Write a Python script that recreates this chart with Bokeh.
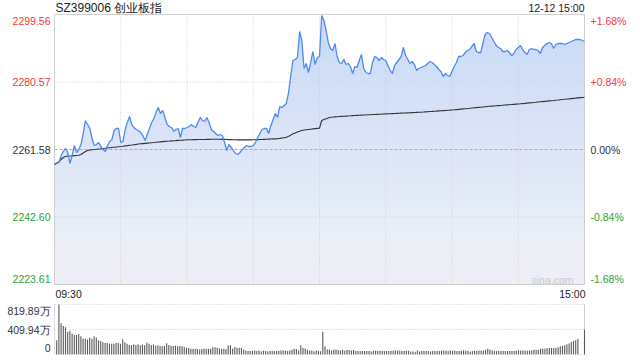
import numpy as np
from bokeh.plotting import figure
from bokeh.models import Range1d
from bokeh.embed import file_html
from bokeh.resources import INLINE
from bokeh.core.properties import value

# ---------------- data ----------------
title_text = "SZ399006 创业板指"
date_text = "12-12 15:00"
time_labels = ["09:30", "15:00"]
watermark = "sina.com"
prev_close = 2261.58
price_ticks = [2299.56, 2280.57, 2261.58, 2242.60, 2223.61]
price_tick_labels = ["2299.56", "2280.57", "2261.58", "2242.60", "2223.61"]
pct_tick_labels = ["+1.68%", "+0.84%", "0.00%", "-0.84%", "-1.68%"]
vol_ticks = [819.89, 409.94, 0]
vol_tick_labels = ["819.89万", "409.94万", "0"]
time_grid = [30, 60, 90, 120, 150, 180, 210]

price = [
    2257.36, 2257.65, 2257.93, 2259.90, 2261.02, 2261.87, 2260.74, 2257.65, 2259.90, 2262.71,
    2260.74, 2261.58, 2262.99, 2266.09, 2269.74, 2268.62, 2267.49, 2264.68, 2262.71, 2262.99,
    2263.55, 2262.43, 2261.58, 2261.02, 2262.71, 2263.83, 2264.40, 2266.93, 2267.49, 2267.49,
    2263.55, 2263.83, 2267.21, 2269.18, 2270.87, 2268.62, 2267.77, 2267.21, 2266.93, 2266.37,
    2265.52, 2264.12, 2265.80, 2267.49, 2269.18, 2270.30, 2271.99, 2273.40, 2271.71, 2272.56,
    2270.59, 2268.62, 2268.05, 2267.77, 2266.65, 2267.21, 2267.49, 2264.96, 2267.49, 2267.49,
    2267.77, 2268.05, 2268.62, 2268.05, 2267.77, 2269.18, 2270.59, 2269.74, 2269.46, 2270.59,
    2269.18, 2267.21, 2266.65, 2266.09, 2265.52, 2265.80, 2265.52, 2263.55, 2261.30, 2262.99,
    2262.15, 2261.30, 2260.46, 2260.18, 2260.74, 2261.58, 2262.15, 2262.71, 2262.43, 2262.43,
    2262.71, 2263.55, 2264.96, 2266.09, 2267.21, 2267.49, 2267.49, 2266.09, 2268.34, 2270.02,
    2271.71, 2270.59, 2273.68, 2273.40, 2273.96, 2274.52, 2277.62, 2282.40, 2286.62, 2286.90,
    2287.46, 2294.78, 2292.25, 2284.37, 2285.78, 2283.24, 2286.06, 2289.15, 2285.49, 2287.46,
    2287.75,
    2299.28, 2297.87, 2295.06, 2291.68, 2290.00, 2289.43, 2291.40, 2287.75, 2286.06,
    2285.78, 2286.90, 2285.49, 2285.78, 2284.93, 2282.96, 2284.93, 2284.65, 2286.62, 2288.31,
    2284.37, 2283.24, 2282.96, 2282.96, 2286.06, 2287.75, 2287.46, 2286.62, 2287.46, 2286.90,
    2286.62, 2285.21, 2283.81, 2282.96, 2285.21, 2286.06, 2286.90, 2287.75, 2290.28, 2288.03,
    2286.90, 2285.78, 2286.34, 2285.49, 2283.81, 2284.37, 2284.65, 2284.93, 2285.21, 2285.78,
    2286.34, 2286.06, 2285.49, 2284.93, 2284.09, 2283.53, 2282.12, 2282.96, 2282.40, 2282.12,
    2283.53, 2284.93, 2286.06, 2287.75, 2287.75, 2288.03, 2288.87, 2289.43, 2289.71, 2290.56,
    2291.40, 2289.15, 2288.87, 2288.87, 2291.40, 2293.93, 2294.50, 2294.22, 2293.09, 2291.96,
    2290.84, 2290.28, 2290.00, 2289.15, 2289.15, 2289.43, 2288.87, 2288.03, 2288.59, 2289.71,
    2290.28, 2290.84, 2289.71, 2288.87, 2288.31, 2289.71, 2290.00, 2289.71, 2289.71, 2289.43,
    2288.59, 2290.28, 2290.84, 2291.40, 2291.68, 2291.40, 2290.00, 2291.12, 2291.40, 2291.40,
    2291.40, 2291.12, 2291.40, 2291.68, 2291.96, 2292.25, 2292.53, 2292.53, 2292.53, 2292.25,
    2291.96,
]

avg = [
    2257.36, 2257.79, 2258.07, 2258.77, 2259.33, 2259.62, 2259.76, 2259.76, 2259.80, 2259.85,
    2259.90, 2259.95, 2260.18, 2260.60, 2261.02, 2261.30, 2261.44, 2261.53, 2261.58, 2261.64,
    2261.72, 2261.78, 2261.87, 2261.94, 2262.01, 2262.08, 2262.15, 2262.22, 2262.29, 2262.36,
    2262.43, 2262.51, 2262.60, 2262.68, 2262.77, 2262.85, 2262.94, 2263.02, 2263.11, 2263.19,
    2263.25, 2263.31, 2263.37, 2263.43, 2263.49, 2263.55, 2263.62, 2263.68, 2263.74, 2263.80,
    2263.86, 2263.92, 2263.96, 2264.01, 2264.05, 2264.09, 2264.14, 2264.18, 2264.22, 2264.27,
    2264.31, 2264.32, 2264.34, 2264.35, 2264.36, 2264.38, 2264.39, 2264.40, 2264.41, 2264.43,
    2264.44, 2264.45, 2264.46, 2264.47, 2264.48, 2264.46, 2264.44, 2264.42, 2264.39, 2264.37,
    2264.35, 2264.33, 2264.31, 2264.30, 2264.29, 2264.28, 2264.28, 2264.28, 2264.28, 2264.29,
    2264.31, 2264.33, 2264.35, 2264.38, 2264.41, 2264.44, 2264.47, 2264.50, 2264.53, 2264.56,
    2264.58, 2264.62, 2264.72, 2264.83, 2264.93, 2265.04, 2265.32, 2265.62, 2266.00, 2266.25,
    2266.50, 2266.72, 2266.93, 2267.06, 2267.14, 2267.22, 2267.30, 2267.38, 2267.46, 2267.52,
    2267.58,
    2269.74, 2270.02, 2270.22, 2270.45, 2270.67, 2270.71, 2270.76, 2270.80, 2270.85,
    2270.89, 2270.93, 2270.98, 2271.02, 2271.06, 2271.11, 2271.15, 2271.18, 2271.21, 2271.25,
    2271.28, 2271.31, 2271.34, 2271.37, 2271.41, 2271.44, 2271.47, 2271.50, 2271.53, 2271.57,
    2271.60, 2271.63, 2271.66, 2271.69, 2271.72, 2271.75, 2271.78, 2271.81, 2271.84, 2271.87,
    2271.90, 2271.93, 2271.96, 2271.99, 2272.02, 2272.05, 2272.08, 2272.12, 2272.17, 2272.21,
    2272.26, 2272.30, 2272.35, 2272.39, 2272.44, 2272.48, 2272.53, 2272.57, 2272.62, 2272.66,
    2272.71, 2272.75, 2272.81, 2272.87, 2272.94, 2273.00, 2273.06, 2273.12, 2273.18, 2273.25,
    2273.31, 2273.37, 2273.43, 2273.49, 2273.56, 2273.62, 2273.68, 2273.73, 2273.78, 2273.83,
    2273.88, 2273.93, 2273.98, 2274.04, 2274.09, 2274.14, 2274.19, 2274.24, 2274.29, 2274.34,
    2274.39, 2274.44, 2274.50, 2274.56, 2274.63, 2274.69, 2274.75, 2274.81, 2274.87, 2274.94,
    2275.00, 2275.06, 2275.12, 2275.18, 2275.25, 2275.31, 2275.37, 2275.44, 2275.50, 2275.57,
    2275.64, 2275.70, 2275.77, 2275.83, 2275.90, 2275.97, 2276.03, 2276.10, 2276.17, 2276.23,
    2276.30,
]

volume = [
    234, 819.89, 513, 469, 446, 374, 390, 346, 318, 318,
    335, 301, 257, 257, 245, 279, 257, 301, 279, 234,
    223, 201, 190, 190, 178, 178, 178, 190, 190, 178,
    251, 201, 178, 156, 150, 167, 156, 167, 150, 162,
    150, 195, 178, 156, 162, 145, 150, 140, 134, 140,
    184, 156, 145, 140, 145, 134, 134, 134, 123, 112,
    106, 95, 95, 95, 89, 84, 89, 95, 95, 95,
    95, 117, 117, 112, 100, 95, 95, 89, 150, 150,
    100, 123, 112, 112, 106, 84, 67, 56, 56, 62,
    67, 56, 67, 50, 62, 56, 50, 56, 62, 56,
    56, 62, 67, 67, 62, 56, 67, 78, 95, 89,
    67, 150, 106, 100, 78, 67, 67, 50, 67, 56,
    55,
    374, 134, 84, 84, 67, 84, 84, 75, 67,
    78, 60, 75, 75, 67, 75, 56, 56, 56, 56,
    56, 56, 56, 50, 56, 56, 56, 62, 56, 56,
    56, 56, 62, 67, 67, 67, 67, 56, 56, 62,
    62, 50, 50, 45, 67, 50, 56, 62, 56, 56,
    50, 56, 56, 56, 56, 62, 67, 62, 56, 67,
    56, 67, 56, 56, 62, 67, 62, 56, 45, 56,
    62, 56, 67, 67, 67, 78, 95, 84, 67, 56,
    56, 56, 56, 56, 56, 56, 56, 56, 56, 62,
    67, 67, 67, 67, 62, 67, 67, 78, 78, 78,
    95, 95, 95, 106, 106, 106, 106, 106, 117, 134,
    140, 151, 167, 179, 206, 223, 234, 257, 3, 3,
    402,
]

minutes = list(range(len(price)))
n_last = minutes[-1]

# ---------------- layout (pixels) ----------------
W, H = 640, 360
PL, PR, PT, PB = 54, 584, 14, 284      # price panel frame
VT, VB = 304, 354                      # volume panel frame
ylo, yhi = price_ticks[-1], price_ticks[0]
vmax = vol_ticks[0]

kx = n_last / (PR - PL)                # minutes per px
ky = (yhi - ylo) / (PB - PT)           # price per px
kvx = (n_last + 1) / (PR - PL)         # volume slots per px
kvy = vmax / (VB - VT)                 # volume per px


def X(px):
    return (px - PL) * kx


def Y(py):
    return yhi - (py - PT) * ky


def VX(px):
    return -1 + (px - PL) * kvx


def VY(py):
    return (VB - py) * kvy


FONT = value("Liberation Sans")
RED, GREEN, DARK = "#f03a3a", "#27a33a", "#333333"
GRID = "#cccccc"
FS = value("10.5px")


def tick_color(v):
    if v > prev_close + 1e-6:
        return RED
    if v < prev_close - 1e-6:
        return GREEN
    return DARK


p = figure(width=W, height=H, x_range=Range1d(X(0), X(W)), y_range=Range1d(Y(H), Y(0)),
           x_axis_type=None, y_axis_type=None, output_backend="svg", toolbar_location=None,
           min_border=0, min_border_left=0, min_border_right=0, min_border_top=0, min_border_bottom=0,
           background_fill_color="white", border_fill_color="white", outline_line_color=None)
p.extra_x_ranges = {"vx": Range1d(VX(0), VX(W))}
p.extra_y_ranges = {"vy": Range1d(VY(H), VY(0))}

# ---- price area fill with a vertical fade ----
p.varea(x=minutes, y1=ylo, y2=price, fill_color="#cad9f7", fill_alpha=1.0)
f_bot = 0.10
N = 40
alpha = 1 - f_bot ** (1.0 / N)
for k in range(1, N + 1):
    frac = ((1 - alpha) ** k - f_bot) / (1 - f_bot)
    top_k = ylo + (yhi - ylo) * max(frac, 0.003)
    p.quad(left=0, right=n_last, bottom=ylo, top=top_k,
           fill_color="white", fill_alpha=alpha, line_color=None)

# ---- grid ----
p.segment(x0=time_grid, x1=time_grid, y0=ylo, y1=yhi, line_color=GRID, line_dash="1 2", line_width=1)
hgrid = [t for t in price_ticks[1:-1] if abs(t - prev_close) > 1e-6]
p.segment(x0=0, x1=n_last, y0=hgrid, y1=hgrid, line_color=GRID, line_dash="1 2", line_width=1)
p.segment(x0=[0], x1=[n_last], y0=[prev_close], y1=[prev_close], line_color="#aaaaaa",
          line_dash="3 2", line_width=1)
# frame
p.quad(left=0, right=n_last, bottom=ylo, top=yhi, fill_color=None, line_color="#d0d0d0", line_width=1)

# ---- lines ----
p.line(x=minutes, y=avg, line_color="#333333", line_width=1.1)
p.line(x=minutes, y=price, line_color="#4d8af0", line_width=1.3)

# ---- texts ----
n_t = len(price_ticks)
lab_y = [yhi - 6 * ky if i == 0 else (ylo + 6 * ky if i == n_t - 1 else v) for i, v in enumerate(price_ticks)]
lab_c = [tick_color(v) for v in price_ticks]
p.text(x=[X(50)] * n_t, y=lab_y, text=price_tick_labels, text_color=lab_c, text_align="right",
       text_baseline="middle", text_font=FONT, text_font_size=FS)
p.text(x=[X(590)] * n_t, y=lab_y, text=pct_tick_labels, text_color=lab_c, text_align="left",
       text_baseline="middle", text_font=FONT, text_font_size=FS)
p.text(x=[X(55)], y=[Y(7.5)], text=[title_text], text_color="#222222", text_align="left",
       text_baseline="middle", text_font=FONT, text_font_size=value("12px"))
p.text(x=[X(584)], y=[Y(7.5)], text=[date_text], text_color="#222222", text_align="right",
       text_baseline="middle", text_font=FONT, text_font_size=FS)
p.text(x=[X(55), X(585)], y=[Y(293), Y(293)], text=time_labels, text_color="#222222",
       text_align=["left", "right"], text_baseline="middle", text_font=FONT, text_font_size=FS)
p.text(x=[X(573)], y=[Y(279)], text=[watermark], text_color="#c8c8c8", text_align="right",
       text_baseline="middle", text_font=FONT, text_font_size=FS)

# ---------------- volume panel ----------------
p.segment(x0=-1, x1=n_last, y0=vol_ticks[:2], y1=vol_ticks[:2], line_color=GRID, line_dash="1 2",
          x_range_name="vx", y_range_name="vy")
p.segment(x0=[-1, n_last], x1=[-1, n_last], y0=0, y1=vmax, line_color=["#dddddd", "#cccccc"],
          x_range_name="vx", y_range_name="vy")
p.vbar(x=minutes, top=volume, width=0.5, fill_color="#5a5a5a", line_color=None,
       x_range_name="vx", y_range_name="vy")
nv = len(vol_ticks)
vlab_y = [v - 6 * kvy if i == 0 else (v + 6.5 * kvy if i == nv - 1 else v) for i, v in enumerate(vol_ticks)]
p.text(x=[VX(50)] * nv, y=vlab_y, text=vol_tick_labels, text_color="#333333", text_align="right",
       text_baseline="middle", text_font=FONT, text_font_size=FS, x_range_name="vx", y_range_name="vy")

open("out.html", "w").write(file_html(p, INLINE))
